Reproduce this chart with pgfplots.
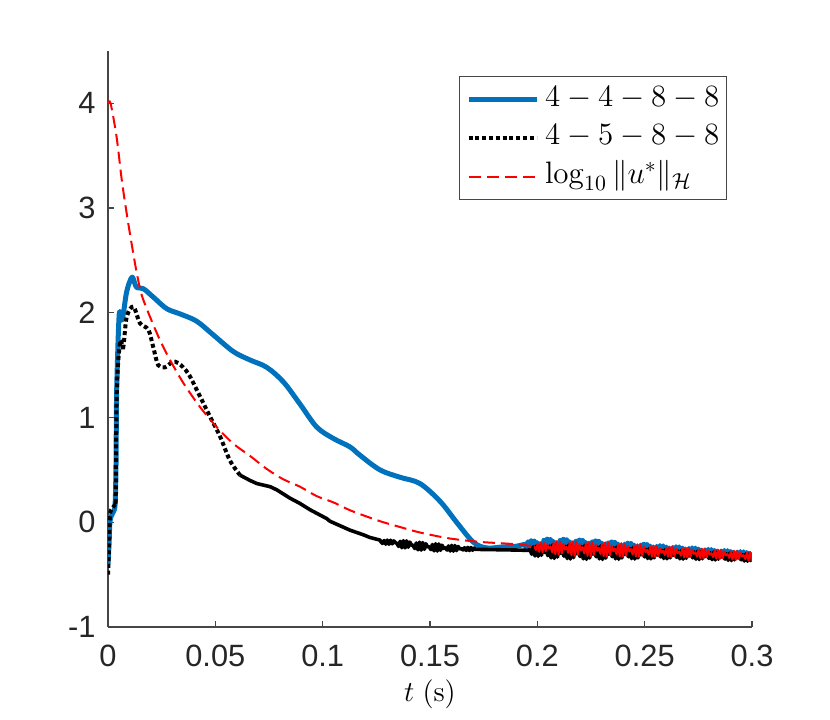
\RequirePackage{fix-cm}
\documentclass[border=0pt]{standalone}
\usepackage[no-math]{fontspec}
\setmainfont{Liberation Sans}
\usepackage{pgfplots}
\pgfplotsset{compat=1.18}
\definecolor{mblue}{RGB}{0,114,189}
\definecolor{axgray}{RGB}{38,38,38}
\definecolor{axline}{RGB}{70,70,70}
\begin{document}
\begin{tikzpicture}
\path[use as bounding box] (-54pt,-46pt) rectangle (361pt,313.5pt);
\begin{axis}[
 at={(0pt,0pt)}, anchor=south west, scale only axis,
 width=322pt, height=288pt,
 xmin=0, xmax=0.3, ymin=-1, ymax=4.5,
 axis x line*=bottom, axis y line*=left,
 axis line style={axline, line width=0.6pt},
 tick style={axline, line width=0.6pt},
 major tick length=3pt, tick align=inside,
 xtick={0,0.05,0.1,0.15,0.2,0.25,0.3},
 xticklabels={0,0.05,0.1,0.15,0.2,0.25,0.3},
 ytick={-1,0,1,2,3,4}, yticklabels={-1,0,1,2,3,4},
 scaled x ticks=false, scaled y ticks=false,
 ticklabel style={font=\fontsize{15.4}{18}\selectfont, text=axgray, inner sep=0pt},
 xticklabel style={yshift=-9pt},
 yticklabel style={xshift=-6pt},
 xlabel={$t\ (\mathrm{s})$},
 xlabel style={at={(axis description cs:0.5,0)}, anchor=base, yshift=-37pt, inner sep=0pt, font=\fontsize{14.5}{17}\selectfont},
 legend style={at={(0.961,0.957)}, anchor=north east, draw=axline, line width=0.5pt, fill=white,
   font=\fontsize{15.5}{18}\selectfont, inner xsep=3.5pt, inner ysep=4pt, row sep=4.35pt,
   nodes={inner sep=0pt, text height=11pt, text depth=4pt},
   /tikz/every odd column/.style={column sep=3pt}},
 legend cell align=left,
 legend image code/.code={\draw[#1] (0pt,0pt) -- (34pt,0pt);},
]
% ---- 4-4-8-8 (blue)
\addplot[mblue, line width=2.5pt, smooth, tension=0.55, line join=round] coordinates {
(0,-0.40) (0.0005,-0.20) (0.001,0.02) (0.0025,0.10) (0.0033,0.17) (0.0037,0.5) (0.004,1.2) (0.0045,1.6) (0.0049,1.85) (0.0053,2.0) (0.0058,2.0) (0.0064,1.93) (0.0072,2.0) (0.0085,2.18) (0.0098,2.28) (0.0113,2.34) (0.0125,2.28) (0.0135,2.24) (0.0165,2.23) (0.0211,2.15) (0.0273,2.04) (0.0335,1.99) (0.0413,1.92) (0.049,1.79) (0.0584,1.63) (0.0661,1.55) (0.0739,1.48) (0.0817,1.34) (0.0894,1.13) (0.0972,0.91) (0.105,0.80) (0.1127,0.72) (0.1174,0.64) (0.1267,0.50) (0.136,0.43) (0.1453,0.37) (0.1547,0.20) (0.1624,0.0) (0.1702,-0.19) (0.1764,-0.245) (0.184,-0.235) (0.19,-0.23)
};
\addlegendentry{$4-4-8-8$}
\addplot[mblue, line width=2.5pt, line join=round, forget plot] coordinates {
(0.19,-0.23)
(0.1941,-0.211) (0.1949,-0.249) (0.1956,-0.186) (0.1964,-0.264) (0.1971,-0.177) (0.1979,-0.267) (0.1986,-0.180) (0.1994,-0.258) (0.2001,-0.195) (0.2009,-0.233)
(0.2016,-0.204) (0.2024,-0.252) (0.2031,-0.172) (0.2039,-0.271) (0.2046,-0.161) (0.2054,-0.275) (0.2061,-0.165) (0.2069,-0.264) (0.2076,-0.184) (0.2084,-0.232)
(0.2091,-0.206) (0.2099,-0.254) (0.2106,-0.174) (0.2114,-0.273) (0.2121,-0.163) (0.2129,-0.277) (0.2136,-0.167) (0.2144,-0.266) (0.2151,-0.186) (0.2159,-0.234)
(0.2166,-0.211) (0.2174,-0.258) (0.2181,-0.181) (0.2189,-0.276) (0.2196,-0.170) (0.2204,-0.280) (0.2211,-0.174) (0.2219,-0.269) (0.2226,-0.192) (0.2234,-0.239)
(0.2241,-0.217) (0.2249,-0.261) (0.2256,-0.188) (0.2264,-0.278) (0.2271,-0.178) (0.2279,-0.282) (0.2286,-0.182) (0.2294,-0.272) (0.2301,-0.199) (0.2309,-0.243)
(0.2316,-0.226) (0.2324,-0.268) (0.2331,-0.198) (0.2339,-0.285) (0.2346,-0.188) (0.2354,-0.288) (0.2361,-0.192) (0.2369,-0.278) (0.2376,-0.208) (0.2384,-0.251)
(0.2391,-0.234) (0.2399,-0.272) (0.2406,-0.209) (0.2414,-0.287) (0.2421,-0.200) (0.2429,-0.290) (0.2436,-0.203) (0.2444,-0.281) (0.2451,-0.218) (0.2459,-0.256)
(0.2466,-0.242) (0.2474,-0.277) (0.2481,-0.218) (0.2489,-0.291) (0.2496,-0.210) (0.2504,-0.294) (0.2511,-0.213) (0.2519,-0.286) (0.2526,-0.227) (0.2534,-0.263)
(0.2541,-0.251) (0.2549,-0.283) (0.2556,-0.230) (0.2564,-0.295) (0.2571,-0.222) (0.2579,-0.298) (0.2586,-0.225) (0.2594,-0.290) (0.2601,-0.237) (0.2609,-0.270)
(0.2616,-0.259) (0.2624,-0.289) (0.2631,-0.240) (0.2639,-0.301) (0.2646,-0.233) (0.2654,-0.303) (0.2661,-0.235) (0.2669,-0.296) (0.2676,-0.247) (0.2684,-0.277)
(0.2691,-0.268) (0.2699,-0.295) (0.2706,-0.250) (0.2714,-0.306) (0.2721,-0.244) (0.2729,-0.308) (0.2736,-0.246) (0.2744,-0.302) (0.2751,-0.257) (0.2759,-0.284)
(0.2766,-0.2805) (0.2774,-0.306) (0.2781,-0.264) (0.2789,-0.316) (0.2796,-0.258) (0.2804,-0.318) (0.2811,-0.260) (0.2819,-0.312) (0.2826,-0.270) (0.2834,-0.2955)
(0.2841,-0.290) (0.2849,-0.314) (0.2856,-0.275) (0.2864,-0.323) (0.2871,-0.269) (0.2879,-0.325) (0.2886,-0.271) (0.2894,-0.319) (0.2901,-0.280) (0.2909,-0.304)
(0.2916,-0.2995) (0.2924,-0.322) (0.2931,-0.285) (0.2939,-0.330) (0.2946,-0.280) (0.2954,-0.332) (0.2961,-0.282) (0.2969,-0.327) (0.2976,-0.290) (0.2984,-0.3125)
(0.2991,-0.304) (0.2999,-0.325)
};
% ---- 4-5-8-8 (black)
\addplot[black, line width=2pt, dash pattern=on 2pt off 1.4pt, smooth, tension=0.5] coordinates {
(0,-0.50) (0.0004,-0.30) (0.0009,0.05) (0.0015,0.12) (0.0033,0.17) (0.0036,0.25) (0.004,1.17) (0.0048,1.55) (0.0059,1.74) (0.0071,1.67) (0.0087,1.96) (0.0118,2.06) (0.0149,1.90) (0.0188,1.84) (0.0211,1.67) (0.0234,1.50) (0.0266,1.48) (0.030,1.53) (0.0328,1.52) (0.0374,1.42) (0.0429,1.20) (0.0475,1.01) (0.0522,0.82) (0.0568,0.59) (0.0615,0.45)
};
\addlegendentry{$4-5-8-8$}
\addplot[black, line width=1.8pt, line join=round, forget plot] coordinates {
(0.0615,0.45) (0.0661,0.40) (0.0693,0.37) (0.0755,0.34) (0.0786,0.31) (0.0848,0.23) (0.0894,0.18) (0.0941,0.12) (0.1019,0.035) (0.1034,0.01) (0.1127,-0.075) (0.119,-0.12) (0.122,-0.145) (0.1267,-0.17)
(0.1271,-0.185) (0.1279,-0.202) (0.1286,-0.174) (0.1294,-0.209) (0.1301,-0.170) (0.1309,-0.210) (0.1316,-0.171) (0.1324,-0.206) (0.1331,-0.178) (0.1339,-0.195)
(0.1346,-0.201) (0.1354,-0.231) (0.1361,-0.182) (0.1369,-0.243) (0.1376,-0.175) (0.1384,-0.245) (0.1391,-0.177) (0.1399,-0.238) (0.1406,-0.189) (0.1414,-0.219)
(0.1421,-0.2185) (0.1429,-0.251) (0.1436,-0.198) (0.1444,-0.263) (0.1451,-0.190) (0.1459,-0.266) (0.1466,-0.193) (0.1474,-0.258) (0.1481,-0.205) (0.1489,-0.2375)
(0.1496,-0.231) (0.1504,-0.261) (0.1511,-0.212) (0.1519,-0.273) (0.1526,-0.205) (0.1534,-0.275) (0.1541,-0.207) (0.1549,-0.268) (0.1556,-0.219) (0.1564,-0.249)
(0.1571,-0.241) (0.1579,-0.265) (0.1586,-0.226) (0.1594,-0.274) (0.1601,-0.220) (0.1609,-0.276) (0.1616,-0.222) (0.1624,-0.270) (0.1631,-0.231) (0.1639,-0.255)
(0.1646,-0.251) (0.1654,-0.264) (0.1661,-0.243) (0.1669,-0.269) (0.1676,-0.240) (0.1684,-0.270) (0.1691,-0.241) (0.1699,-0.267) (0.1706,-0.246) (0.1714,-0.259)
(0.176,-0.260) (0.184,-0.263) (0.19,-0.265) (0.1955,-0.268)
(0.1966,-0.2625) (0.1974,-0.305) (0.1981,-0.235) (0.1989,-0.3215) (0.1996,-0.225) (0.2004,-0.325) (0.2011,-0.2285) (0.2019,-0.315) (0.2026,-0.245) (0.2034,-0.2875)
(0.2041,-0.264) (0.2049,-0.319) (0.2056,-0.228) (0.2064,-0.340) (0.2071,-0.215) (0.2079,-0.345) (0.2086,-0.220) (0.2094,-0.332) (0.2101,-0.241) (0.2109,-0.296)
(0.2116,-0.267) (0.2124,-0.324) (0.2131,-0.230) (0.2139,-0.346) (0.2146,-0.217) (0.2154,-0.351) (0.2161,-0.222) (0.2169,-0.338) (0.2176,-0.244) (0.2184,-0.301)
(0.2191,-0.270) (0.2199,-0.327) (0.2206,-0.233) (0.2214,-0.349) (0.2221,-0.220) (0.2229,-0.354) (0.2236,-0.225) (0.2244,-0.341) (0.2251,-0.247) (0.2259,-0.304)
(0.2266,-0.274) (0.2274,-0.329) (0.2281,-0.238) (0.2289,-0.350) (0.2296,-0.225) (0.2304,-0.355) (0.2311,-0.230) (0.2319,-0.342) (0.2326,-0.251) (0.2334,-0.306)
(0.2341,-0.278) (0.2349,-0.329) (0.2356,-0.245) (0.2364,-0.349) (0.2371,-0.233) (0.2379,-0.353) (0.2386,-0.237) (0.2394,-0.341) (0.2401,-0.257) (0.2409,-0.308)
(0.2416,-0.282) (0.2424,-0.329) (0.2431,-0.252) (0.2439,-0.347) (0.2446,-0.241) (0.2454,-0.351) (0.2461,-0.245) (0.2469,-0.340) (0.2476,-0.263) (0.2484,-0.310)
(0.2491,-0.2875) (0.2499,-0.330) (0.2506,-0.260) (0.2514,-0.3465) (0.2521,-0.250) (0.2529,-0.350) (0.2536,-0.2535) (0.2544,-0.340) (0.2551,-0.270) (0.2559,-0.3125)
(0.2566,-0.293) (0.2574,-0.331) (0.2581,-0.268) (0.2589,-0.346) (0.2596,-0.259) (0.2604,-0.349) (0.2611,-0.262) (0.2619,-0.340) (0.2626,-0.277) (0.2634,-0.315)
(0.2641,-0.2995) (0.2649,-0.335) (0.2656,-0.276) (0.2664,-0.349) (0.2671,-0.268) (0.2679,-0.352) (0.2686,-0.271) (0.2694,-0.344) (0.2701,-0.285) (0.2709,-0.3205)
(0.2716,-0.306) (0.2724,-0.340) (0.2731,-0.284) (0.2739,-0.353) (0.2746,-0.276) (0.2754,-0.356) (0.2761,-0.279) (0.2769,-0.348) (0.2776,-0.292) (0.2784,-0.326)
(0.2791,-0.3125) (0.2799,-0.345) (0.2806,-0.292) (0.2814,-0.357) (0.2821,-0.284) (0.2829,-0.360) (0.2836,-0.287) (0.2844,-0.352) (0.2851,-0.299) (0.2859,-0.3315)
(0.2866,-0.321) (0.2874,-0.3515) (0.2881,-0.301) (0.2889,-0.3635) (0.2896,-0.294) (0.2904,-0.366) (0.2911,-0.2965) (0.2919,-0.359) (0.2926,-0.3085) (0.2934,-0.339)
(0.2941,-0.328) (0.2949,-0.358) (0.2956,-0.309) (0.2964,-0.370) (0.2971,-0.302) (0.2979,-0.372) (0.2986,-0.304) (0.2994,-0.365) (0.3,-0.316)
};
% ---- log10 ||u*||_H (red)
\addplot[red, line width=1pt, dash pattern=on 6pt off 3pt, smooth, tension=0.5] coordinates {
(0,4.0) (0.0012,4.0) (0.004,3.68) (0.0064,3.27) (0.0087,2.95) (0.011,2.66) (0.0134,2.38) (0.0157,2.17) (0.0196,1.96) (0.0242,1.74) (0.0289,1.55) (0.0351,1.33) (0.0429,1.10) (0.0506,0.91) (0.0584,0.75) (0.0661,0.635) (0.0739,0.51) (0.0817,0.41) (0.0894,0.34) (0.0972,0.25) (0.105,0.19) (0.1127,0.115) (0.1205,0.055) (0.1283,0.0) (0.136,-0.045) (0.1438,-0.09) (0.1515,-0.125) (0.1593,-0.155) (0.167,-0.175) (0.1748,-0.19) (0.183,-0.2) (0.19,-0.21) (0.1986,-0.229)
};
\addlegendentry{$\log_{10}\|u^*\|_{\mathcal{H}}$}
\addplot[red, line width=1pt, line join=round, forget plot] coordinates {
(0.1986,-0.229) (0.1994,-0.267) (0.2001,-0.204) (0.2009,-0.282) (0.2016,-0.195) (0.2024,-0.285) (0.2031,-0.198) (0.2039,-0.276) (0.2046,-0.213) (0.2054,-0.251)
(0.2061,-0.229) (0.2069,-0.284) (0.2076,-0.193) (0.2084,-0.305) (0.2091,-0.180) (0.2099,-0.310) (0.2106,-0.185) (0.2114,-0.297) (0.2121,-0.206) (0.2129,-0.261)
(0.2136,-0.2325) (0.2144,-0.292) (0.2151,-0.194) (0.2159,-0.315) (0.2166,-0.180) (0.2174,-0.320) (0.2181,-0.185) (0.2189,-0.306) (0.2196,-0.208) (0.2204,-0.2675)
(0.2211,-0.2375) (0.2219,-0.297) (0.2226,-0.199) (0.2234,-0.320) (0.2241,-0.185) (0.2249,-0.325) (0.2256,-0.190) (0.2264,-0.311) (0.2271,-0.213) (0.2279,-0.2725)
(0.2286,-0.243) (0.2294,-0.301) (0.2301,-0.206) (0.2309,-0.323) (0.2316,-0.192) (0.2324,-0.328) (0.2331,-0.197) (0.2339,-0.314) (0.2346,-0.219) (0.2354,-0.277)
(0.2361,-0.249) (0.2369,-0.304) (0.2376,-0.213) (0.2384,-0.325) (0.2391,-0.200) (0.2399,-0.330) (0.2406,-0.205) (0.2414,-0.317) (0.2421,-0.226) (0.2429,-0.281)
(0.2436,-0.255) (0.2444,-0.306) (0.2451,-0.222) (0.2459,-0.326) (0.2466,-0.210) (0.2474,-0.330) (0.2481,-0.214) (0.2489,-0.318) (0.2496,-0.234) (0.2504,-0.285)
(0.2511,-0.263) (0.2519,-0.310) (0.2526,-0.233) (0.2534,-0.328) (0.2541,-0.222) (0.2549,-0.332) (0.2556,-0.226) (0.2564,-0.321) (0.2571,-0.244) (0.2579,-0.291)
(0.2586,-0.2705) (0.2594,-0.313) (0.2601,-0.243) (0.2609,-0.3295) (0.2616,-0.233) (0.2624,-0.333) (0.2631,-0.2365) (0.2639,-0.323) (0.2646,-0.253) (0.2654,-0.2955)
(0.2661,-0.278) (0.2669,-0.319) (0.2676,-0.252) (0.2684,-0.335) (0.2691,-0.242) (0.2699,-0.338) (0.2706,-0.245) (0.2714,-0.328) (0.2721,-0.261) (0.2729,-0.302)
(0.2736,-0.2865) (0.2744,-0.326) (0.2751,-0.261) (0.2759,-0.341) (0.2766,-0.252) (0.2774,-0.344) (0.2781,-0.255) (0.2789,-0.335) (0.2796,-0.270) (0.2804,-0.3095)
(0.2811,-0.295) (0.2819,-0.333) (0.2826,-0.270) (0.2834,-0.348) (0.2841,-0.261) (0.2849,-0.351) (0.2856,-0.264) (0.2864,-0.342) (0.2871,-0.279) (0.2879,-0.317)
(0.2886,-0.304) (0.2894,-0.341) (0.2901,-0.280) (0.2909,-0.356) (0.2916,-0.271) (0.2924,-0.359) (0.2931,-0.274) (0.2939,-0.350) (0.2946,-0.289) (0.2954,-0.326)
(0.2961,-0.314) (0.2969,-0.351) (0.2976,-0.291) (0.2984,-0.365) (0.2991,-0.282) (0.2999,-0.368)
};
\end{axis}
\end{tikzpicture}
\end{document}
